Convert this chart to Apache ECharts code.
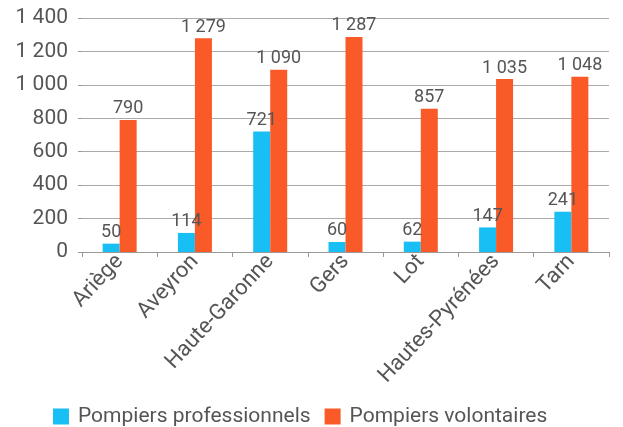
<!DOCTYPE html>
<html>
<head>
<meta charset="utf-8">
<script src="https://cdn.jsdelivr.net/npm/echarts@6/dist/echarts.min.js"></script>
<style>
  html, body { margin: 0; padding: 0; background: #fff; }
  #chart { width: 623px; height: 427px; }
</style>
</head>
<body>
<div id="chart"></div>
<script>
// Départements d'Occitanie (ex Midi-Pyrénées)
const departements = ['Ariège', 'Aveyron', 'Haute-Garonne', 'Gers', 'Lot', 'Hautes-Pyrénées', 'Tarn'];
const professionnels = [50, 114, 721, 60, 62, 147, 241];
const volontaires = [790, 1279, 1090, 1287, 857, 1035, 1048];
const yTicks = [0, 200, 400, 600, 800, 1000, 1200, 1400];

const FONT = 'Roboto';
const TEXT = '#555';

// Thousands separated by a space, French style
function fr(n) {
  return String(n).replace(/\B(?=(\d{3})+(?!\d))/g, ' ');
}

const chart = echarts.init(document.getElementById('chart'));
chart.setOption({
  animation: false,
  textStyle: { fontFamily: FONT },
  grid: { left: 82, right: 14, top: 18, bottom: 175, containLabel: false },
  legend: {
    top: 401,
    left: 48,
    itemWidth: 16,
    itemHeight: 16,
    itemGap: 14,
    icon: 'rect',
    textStyle: { fontFamily: FONT, fontSize: 21, color: TEXT, padding: [0, 0, 0, 4] },
    data: ['Pompiers professionnels', 'Pompiers volontaires']
  },
  xAxis: {
    type: 'category',
    data: departements,
    axisLine: { lineStyle: { color: '#999', width: 1 } },
    axisTick: { show: true, length: 5, lineStyle: { color: '#999' } },
    axisLabel: { rotate: 47, fontFamily: FONT, fontSize: 22, color: TEXT, margin: 6, interval: 0 }
  },
  yAxis: {
    type: 'value',
    min: yTicks[0],
    max: yTicks[yTicks.length - 1],
    interval: 200,
    axisLine: { show: false },
    axisTick: { show: true, length: 4, lineStyle: { color: '#999' } },
    splitLine: { lineStyle: { color: '#aaa', width: 1 } },
    axisLabel: { fontFamily: FONT, fontSize: 21, color: TEXT, margin: 14, formatter: v => fr(v) }
  },
  series: [
    {
      name: 'Pompiers professionnels',
      type: 'bar',
      data: professionnels,
      barWidth: 17,
      barGap: '0%',
      itemStyle: { color: '#18bff4' },
      label: { show: true, position: 'top', distance: 2, fontFamily: FONT, fontSize: 18, color: TEXT, formatter: p => fr(p.value) }
    },
    {
      name: 'Pompiers volontaires',
      type: 'bar',
      data: volontaires,
      barWidth: 17,
      barGap: '0%',
      itemStyle: { color: '#f95a27' },
      label: { show: true, position: 'top', distance: 2, fontFamily: FONT, fontSize: 18, color: TEXT, formatter: p => fr(p.value) }
    }
  ]
});
</script>
</body>
</html>
